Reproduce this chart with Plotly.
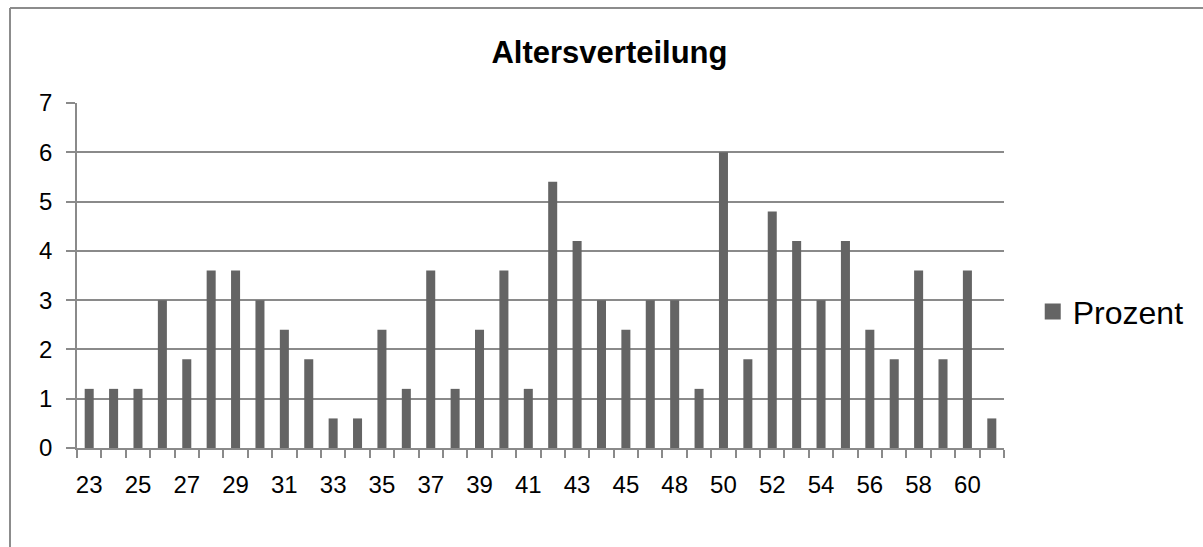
import plotly.graph_objects as go

ages = ["23", "24", "25", "26", "27", "28", "29", "30", "31", "32", "33", "34",
        "35", "36", "37", "38", "39", "40", "41", "42", "43", "44", "45", "46",
        "48", "49", "50", "51", "52", "53", "54", "55", "56", "57", "58", "59",
        "60", "61"]
prozent = [1.2, 1.2, 1.2, 3, 1.8, 3.6, 3.6, 3, 2.4, 1.8, 0.6, 0.6,
           2.4, 1.2, 3.6, 1.2, 2.4, 3.6, 1.2, 5.4, 4.2, 3, 2.4, 3,
           3, 1.2, 6, 1.8, 4.8, 4.2, 3, 4.2, 2.4, 1.8, 3.6, 1.8,
           3.6, 0.6]
tick_labels = [a if i % 2 == 0 else "" for i, a in enumerate(ages)]

FONT = "Arial, 'Liberation Sans', sans-serif"
BAR = "#646464"
AXIS = "#8a8a8a"

fig = go.Figure()
fig.add_trace(go.Bar(x=ages, y=prozent, name="Prozent", marker_color=BAR,
                     marker_line_width=0, showlegend=False))
fig.add_trace(go.Scatter(x=[None], y=[None], mode="markers", name="Prozent",
                         marker=dict(symbol="square", size=16, color=BAR)))

fig.update_layout(
    width=1203, height=547,
    margin=dict(l=77, r=199, t=103, b=99, autoexpand=False),
    paper_bgcolor="white", plot_bgcolor="white",
    bargap=0.63,
    font=dict(family=FONT, color="black"),
    title=dict(text="<b>Altersverteilung</b>", x=609.5 / 1203, xanchor="center",
               y=1 - 52 / 547, yanchor="middle", xref="container", yref="container",
               font=dict(size=31, family=FONT, color="black")),
    legend=dict(x=1.031, xanchor="left", y=0.395, yanchor="middle",
                font=dict(size=32, family=FONT, color="black"),
                itemwidth=30, bgcolor="rgba(0,0,0,0)"),
    xaxis=dict(type="category", tickmode="array", tickvals=ages, ticktext=tick_labels,
               tickson="boundaries", ticks="outside", ticklen=8, tickcolor=AXIS,
               tickwidth=1.5, showline=True, linecolor=AXIS, linewidth=1.5,
               showgrid=False, tickfont=dict(size=24, family=FONT, color="black"),
               tickangle=0, automargin=False, ticklabelstandoff=14),
    yaxis=dict(range=[0, 7], dtick=1, tick0=0, ticks="outside", ticklen=9,
               tickcolor=AXIS, tickwidth=1.5, showline=True, linecolor=AXIS,
               linewidth=1.5, showgrid=True, gridcolor=AXIS, gridwidth=1.5,
               zeroline=False, tickfont=dict(size=24, family=FONT, color="black"),
               automargin=False, ticklabelstandoff=9),
)

left_x = (10 - 77) / 927
top_y = 1 + (103 - 8) / 345
fig.add_shape(type="line", xref="paper", yref="paper", x0=left_x, x1=left_x,
              y0=top_y, y1=-0.4, line=dict(color="#8c8c8c", width=2))
fig.add_shape(type="line", xref="paper", yref="paper", x0=left_x, x1=1.25,
              y0=top_y, y1=top_y, line=dict(color="#8c8c8c", width=2))

fig.write_html("out.html", config={"displayModeBar": False},
               post_script="document.body.style.margin='0';document.body.style.padding='0';")
